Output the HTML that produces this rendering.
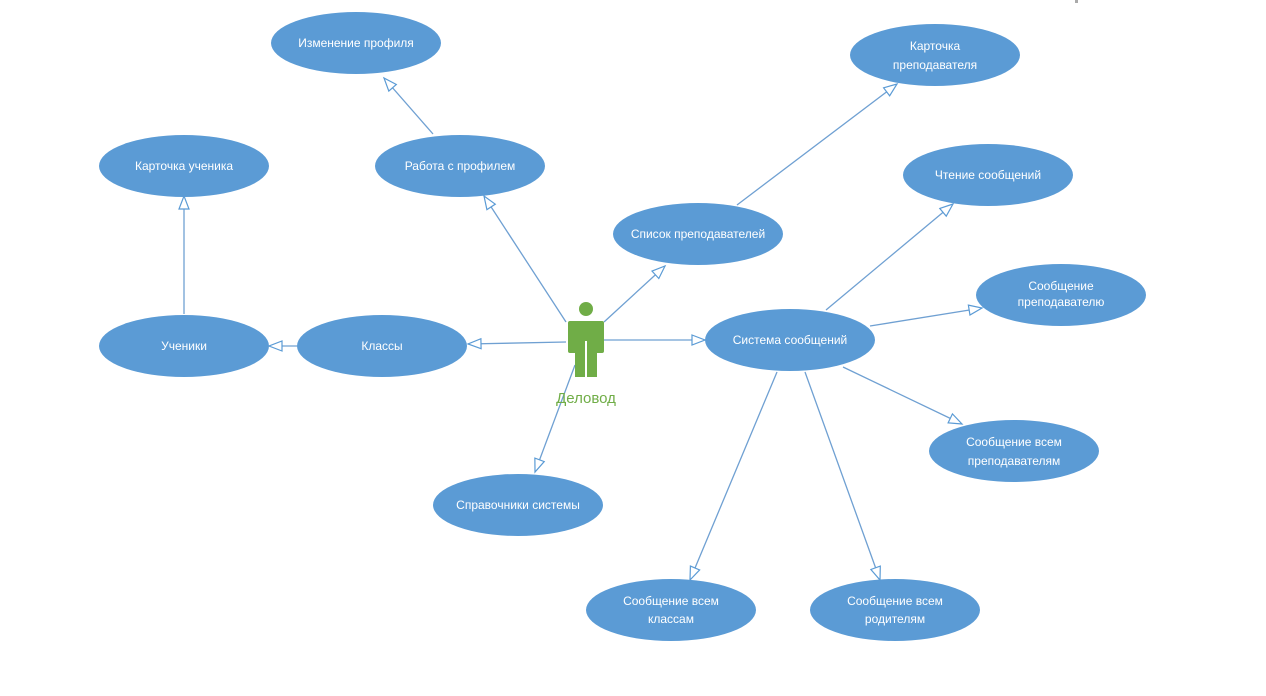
<!DOCTYPE html>
<html><head><meta charset="utf-8"><style>
html,body{margin:0;padding:0;background:#fff}
svg{display:block}
text{font-family:"Liberation Sans",sans-serif;font-size:12px;fill:#fff;text-anchor:middle}
</style></head><body>
<svg width="1266" height="696" viewBox="0 0 1266 696">
<defs>
<marker id="a" markerWidth="16" markerHeight="12" refX="14" refY="6" orient="auto" markerUnits="userSpaceOnUse">
<path d="M1,1 L14,6 L1,11 Z" fill="#fff" stroke="#5b9bd5" stroke-width="1.2"/>
</marker>
</defs>
<g stroke="#6fa0d2" stroke-width="1.3" fill="none" marker-end="url(#a)">
<line x1="566" y1="322" x2="484" y2="196"/>
<line x1="433" y1="134" x2="384" y2="78"/>
<line x1="604" y1="322" x2="665" y2="266"/>
<line x1="737" y1="205" x2="897" y2="84"/>
<line x1="566" y1="342" x2="468" y2="344"/>
<line x1="297" y1="346" x2="269" y2="346"/>
<line x1="184" y1="314" x2="184" y2="196"/>
<line x1="604" y1="340" x2="705" y2="340"/>
<line x1="575" y1="365" x2="535" y2="472"/>
<line x1="826" y1="310" x2="953" y2="204"/>
<line x1="870" y1="326" x2="982" y2="308"/>
<line x1="843" y1="367" x2="962" y2="424"/>
<line x1="777" y1="372" x2="690" y2="580"/>
<line x1="805" y1="372" x2="880" y2="580"/>
</g>
<g fill="#5b9bd5">
<ellipse cx="356" cy="43" rx="85" ry="31"/>
<ellipse cx="935" cy="55" rx="85" ry="31"/>
<ellipse cx="184" cy="166" rx="85" ry="31"/>
<ellipse cx="460" cy="166" rx="85" ry="31"/>
<ellipse cx="988" cy="175" rx="85" ry="31"/>
<ellipse cx="698" cy="234" rx="85" ry="31"/>
<ellipse cx="1061" cy="295" rx="85" ry="31"/>
<ellipse cx="184" cy="346" rx="85" ry="31"/>
<ellipse cx="382" cy="346" rx="85" ry="31"/>
<ellipse cx="790" cy="340" rx="85" ry="31"/>
<ellipse cx="1014" cy="451" rx="85" ry="31"/>
<ellipse cx="518" cy="505" rx="85" ry="31"/>
<ellipse cx="671" cy="610" rx="85" ry="31"/>
<ellipse cx="895" cy="610" rx="85" ry="31"/>
</g>
<text x="356" y="47">Изменение профиля</text>
<text x="935" y="50">Карточка</text><text x="935" y="69">преподавателя</text>
<text x="184" y="170">Карточка ученика</text>
<text x="460" y="170">Работа с профилем</text>
<text x="988" y="179">Чтение сообщений</text>
<text x="698" y="238">Список преподавателей</text>
<text x="1061" y="290">Сообщение</text><text x="1061" y="306">преподавателю</text>
<text x="184" y="350">Ученики</text>
<text x="382" y="350">Классы</text>
<text x="790" y="344">Система сообщений</text>
<text x="1014" y="446">Сообщение всем</text><text x="1014" y="465">преподавателям</text>
<text x="518" y="509">Справочники системы</text>
<text x="671" y="605">Сообщение всем</text><text x="671" y="623">классам</text>
<text x="895" y="605">Сообщение всем</text><text x="895" y="623">родителям</text>
<g fill="#70ad47">
<circle cx="586" cy="309" r="7"/>
<rect x="568" y="321" width="36" height="32" rx="2"/>
<rect x="575" y="340" width="10" height="37"/>
<rect x="587" y="340" width="10" height="37"/>
</g>
<rect x="585" y="341" width="2" height="36" fill="#fff"/>
<text x="586" y="403" style="fill:#70ad47;font-size:15px">Деловод</text>
<rect x="1075" y="0" width="3" height="3" fill="#aaa"/>
</svg>
</body></html>
